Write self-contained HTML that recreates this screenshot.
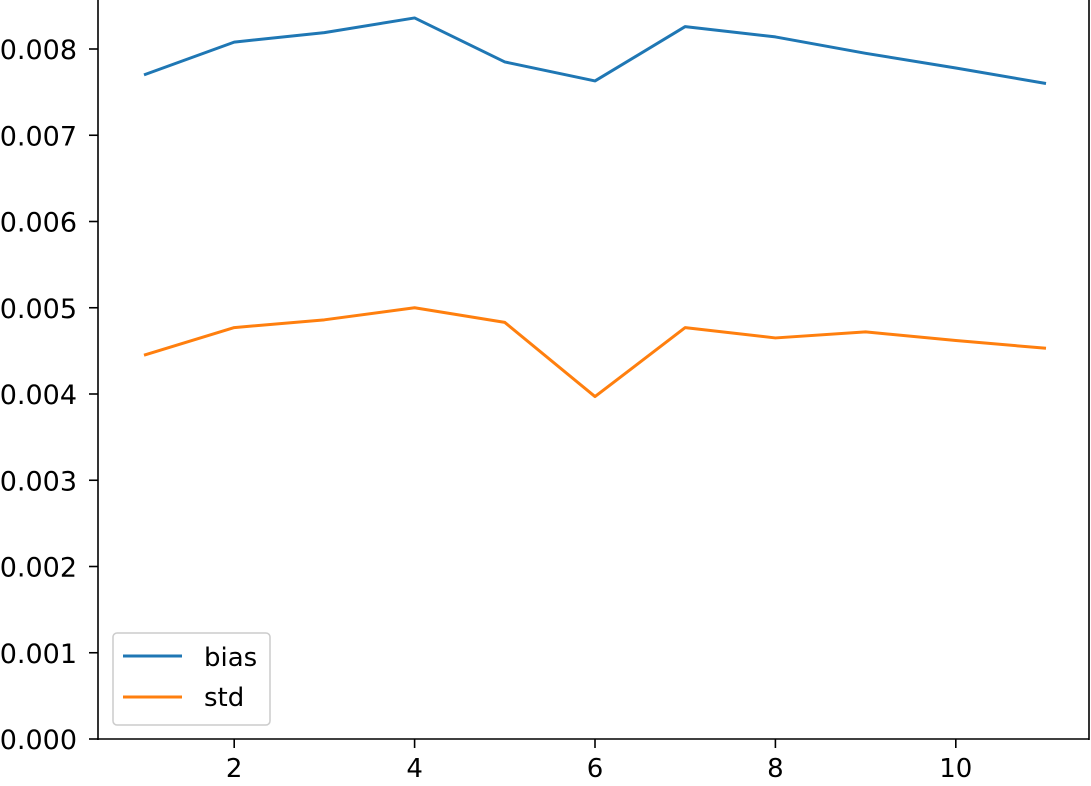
<!DOCTYPE html>
<html><head><meta charset="utf-8"><style>
html,body{margin:0;padding:0;background:#fff;overflow:hidden}
svg{display:block;font-family:"DejaVu Sans","Liberation Sans",sans-serif}
</style></head><body>
<svg id="chart" width="1091" height="786" viewBox="0 0 1091 786" xmlns="http://www.w3.org/2000/svg">
<g id="axes"></g>
<g id="series"></g>
<g>
<rect x="113" y="633" width="157" height="92" rx="4" fill="#fff" stroke="#ccc" stroke-width="1.5"/>
<line x1="123" y1="656" x2="182" y2="656" stroke="#1f77b4" stroke-width="3"/>
<text x="204" y="666" font-size="26">bias</text>
<line x1="123" y1="697" x2="182" y2="697" stroke="#ff7f0e" stroke-width="3"/>
<text x="204" y="706" font-size="26">std</text>
</g>
</svg>
<script>
const xs = [1,2,3,4,5,6,7,8,9,10,11];
const bias = [0.00770,0.00808,0.00819,0.00836,0.00785,0.00763,0.00826,0.00814,0.00795,0.00778,0.00760];
const std = [0.00445,0.00477,0.00486,0.00500,0.00483,0.00397,0.00477,0.00465,0.00472,0.00462,0.00453];
const xTicks = [2,4,6,8,10];
const yTicks = [0,0.001,0.002,0.003,0.004,0.005,0.006,0.007,0.008];
const yTickLabels = ["0.000","0.001","0.002","0.003","0.004","0.005","0.006","0.007","0.008"];

const NS="http://www.w3.org/2000/svg";
const X = v => 144 + (v-1)*90.2;
const Y = v => 739 - v*86250;
const axes=document.getElementById('axes'), ser=document.getElementById('series');
function mk(tag,attrs,parent){const e=document.createElementNS(NS,tag);for(const k in attrs)e.setAttribute(k,attrs[k]);parent.appendChild(e);return e;}

let l=mk('line',{x1:98,y1:0,x2:98,y2:740,stroke:'#000','stroke-width':1.6},axes);


l=mk('line',{x1:97,y1:739,x2:1089,y2:739,stroke:'#000','stroke-width':1.6},axes);


l=mk('line',{x1:1089,y1:0,x2:1089,y2:740,stroke:'#000','stroke-width':1.6},axes);



xTicks.forEach(t=>{
  const tk=mk('line',{x1:X(t),y1:739,x2:X(t),y2:748,stroke:'#000','stroke-width':1.6},axes);
  
  
  const tx=mk('text',{x:X(t),y:777,'font-size':26,'text-anchor':'middle'},axes);
  tx.textContent=t;
  
  
});
yTicks.forEach((t,i)=>{
  const tk=mk('line',{x1:89,y1:Y(t),x2:98,y2:Y(t),stroke:'#000','stroke-width':1.6},axes);
  
  
  const tx=mk('text',{x:77,y:Y(t)+10,'font-size':27,'text-anchor':'end'},axes);
  tx.textContent=yTickLabels[i];
  
  
});
function line(data,color,name){
  const p=mk('polyline',{points:data.map((v,i)=>X(xs[i])+','+Y(v)).join(' '),fill:'none',stroke:color,'stroke-width':3,'stroke-linejoin':'round'},ser);
  
  
}
line(bias,'#1f77b4','bias-line');
line(std,'#ff7f0e','std-line');
</script>
</body></html>
